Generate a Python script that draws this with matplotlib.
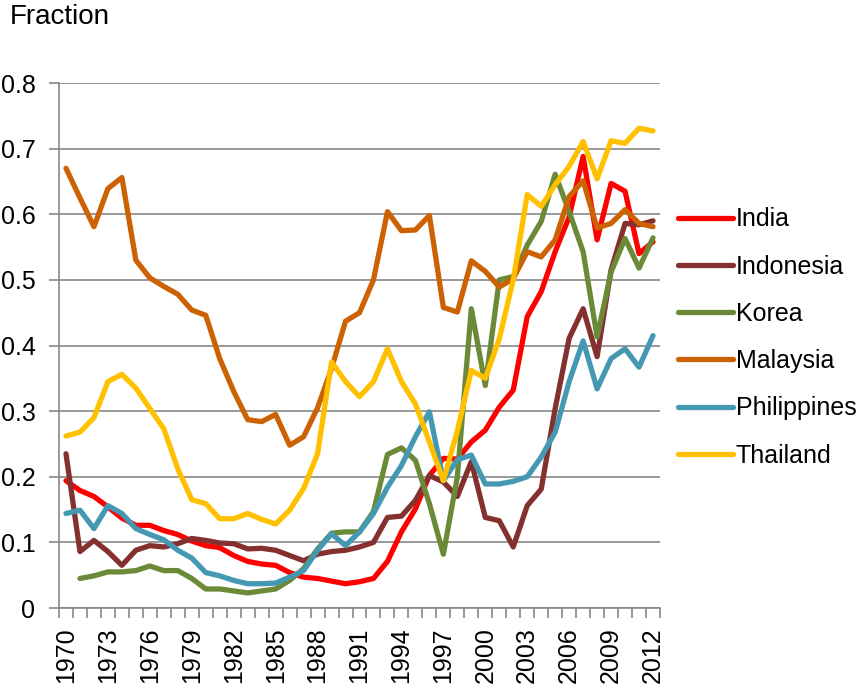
import numpy as np
import matplotlib
matplotlib.use("Agg")
import matplotlib.pyplot as plt
from matplotlib.ticker import FixedLocator

plt.rcParams['font.family'] = ['Liberation Sans', 'DejaVu Sans']

years = list(range(1970, 2013))

india = [0.194, 0.179, 0.170, 0.154, 0.137, 0.126, 0.126, 0.118, 0.112, 0.102,
         0.095, 0.092, 0.080, 0.071, 0.067, 0.065, 0.054, 0.047, 0.045, 0.041,
         0.037, 0.040, 0.045, 0.071, 0.116, 0.151, 0.202, 0.228, 0.227, 0.253,
         0.271, 0.306, 0.332, 0.444, 0.482, 0.543, 0.596, 0.688, 0.561, 0.647,
         0.635, 0.540, 0.558]
indonesia = [0.235, 0.086, 0.103, 0.086, 0.065, 0.088, 0.095, 0.093, 0.098, 0.106,
             0.103, 0.099, 0.098, 0.090, 0.091, 0.088, 0.080, 0.072, 0.082, 0.086,
             0.088, 0.093, 0.100, 0.138, 0.140, 0.164, 0.202, 0.192, 0.170, 0.223,
             0.138, 0.133, 0.093, 0.156, 0.181, 0.304, 0.411, 0.456, 0.383, 0.515,
             0.586, 0.584, 0.590]
korea = [np.nan, 0.045, 0.049, 0.055, 0.055, 0.057, 0.064, 0.057, 0.057, 0.045,
         0.029, 0.029, 0.026, 0.023, 0.026, 0.029, 0.042, 0.060, 0.090, 0.114,
         0.116, 0.116, 0.147, 0.234, 0.244, 0.225, 0.159, 0.082, 0.200, 0.456,
         0.339, 0.500, 0.505, 0.553, 0.589, 0.661, 0.604, 0.543, 0.413, 0.512,
         0.563, 0.518, 0.564]
malaysia = [0.670, 0.625, 0.581, 0.639, 0.656, 0.530, 0.503, 0.490, 0.478, 0.454,
            0.446, 0.380, 0.330, 0.287, 0.284, 0.295, 0.248, 0.261, 0.305, 0.365,
            0.437, 0.450, 0.500, 0.604, 0.575, 0.576, 0.598, 0.458, 0.451, 0.529,
            0.513, 0.489, 0.502, 0.543, 0.535, 0.561, 0.627, 0.651, 0.579, 0.586,
            0.607, 0.586, 0.581]
philippines = [0.144, 0.149, 0.121, 0.156, 0.144, 0.121, 0.112, 0.104, 0.088, 0.076,
               0.054, 0.049, 0.042, 0.037, 0.037, 0.038, 0.047, 0.057, 0.088, 0.113,
               0.095, 0.116, 0.144, 0.184, 0.217, 0.261, 0.299, 0.194, 0.226, 0.233,
               0.189, 0.189, 0.193, 0.200, 0.230, 0.268, 0.345, 0.407, 0.334, 0.380,
               0.395, 0.367, 0.415]
thailand = [0.262, 0.268, 0.290, 0.345, 0.356, 0.335, 0.304, 0.273, 0.212, 0.165,
            0.159, 0.136, 0.136, 0.144, 0.135, 0.128, 0.149, 0.182, 0.235, 0.375,
            0.345, 0.322, 0.345, 0.395, 0.345, 0.311, 0.253, 0.194, 0.270, 0.362,
            0.350, 0.410, 0.500, 0.630, 0.612, 0.645, 0.673, 0.711, 0.654, 0.712,
            0.708, 0.731, 0.727]

series = [("India", india, "#FF0000"),
          ("Indonesia", indonesia, "#83302F"),
          ("Korea", korea, "#6B8A38"),
          ("Malaysia", malaysia, "#CC6204"),
          ("Philippines", philippines, "#4498B2"),
          ("Thailand", thailand, "#FFC000")]

fig = plt.figure(figsize=(8.67, 6.86), dpi=100)
ax = fig.add_axes([59/867, 1-608/686, (660-59)/867, (608-83)/686])

x = np.arange(len(years))
for name, vals, col in series:
    ax.plot(x, vals, color=col, lw=3.8, label=name,
            solid_capstyle='round', solid_joinstyle='round')

grid_c = "#878787"
ax.set_ylim(0, 0.8)
ax.set_yticks(np.arange(0, 0.81, 0.1))
ax.set_yticklabels(["0"] + ["%.1f" % v for v in np.arange(0.1, 0.81, 0.1)])
ax.yaxis.grid(True, color=grid_c, lw=1.2)
ax.set_axisbelow(True)

ax.set_xlim(-0.5, len(years) - 0.5)
ax.set_xticks(x[::3])
ax.set_xticklabels([str(y) for y in years[::3]], rotation=90)
ax.xaxis.set_minor_locator(FixedLocator(np.arange(-0.5, len(years), 1)))
ax.tick_params(axis='x', which='major', length=0, pad=14)
ax.tick_params(axis='x', which='minor', length=7, width=1.2, color=grid_c)
ax.tick_params(axis='y', length=7, width=1.2, color=grid_c, pad=10)
ax.tick_params(labelsize=18)

for s in ['top', 'right']:
    ax.spines[s].set_visible(False)
for s in ['left', 'bottom']:
    ax.spines[s].set_color(grid_c)
    ax.spines[s].set_linewidth(1.2)

fig.text(10/867, 1-4/686, "Fraction", fontsize=20, va='top', ha='left')

leg = ax.legend(loc='upper left', bbox_to_anchor=(1.013, 0.782), frameon=False,
                fontsize=18, handlelength=2.2, handletextpad=0.12,
                labelspacing=0.93, borderaxespad=0)

fig.savefig("out.png", dpi=100)
